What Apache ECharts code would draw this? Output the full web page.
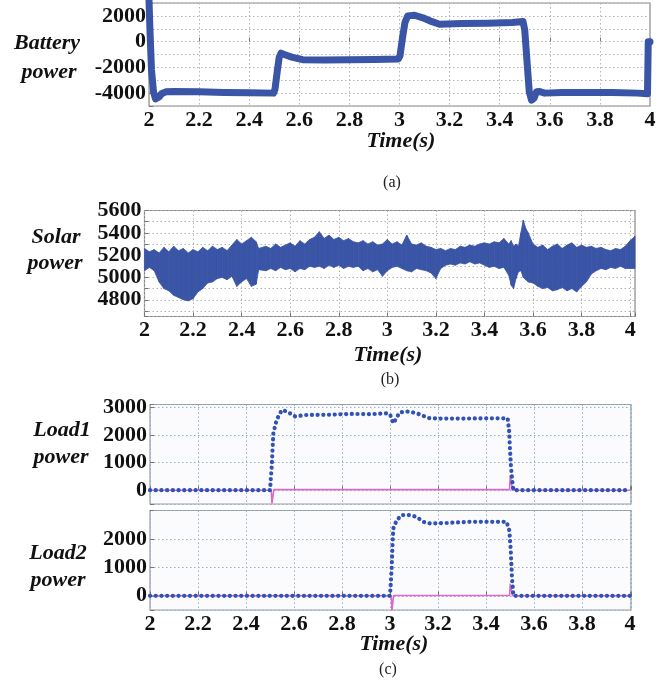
<!DOCTYPE html>
<html>
<head>
<meta charset="utf-8">
<script src="https://cdn.jsdelivr.net/npm/echarts@6/dist/echarts.min.js"></script>
<style>
html,body{margin:0;padding:0;background:#fff;}
#chart{width:669px;height:682px;}
</style>
</head>
<body>
<div id="chart"></div>
<script>
// ---------- data ----------
const xTicks = [2, 2.2, 2.4, 2.6, 2.8, 3, 3.2, 3.4, 3.6, 3.8, 4];

// (a) Battery power
const batteryT = [2.000, 2.004, 2.010, 2.018, 2.026, 2.033, 2.040, 2.050, 2.067, 2.100, 2.200, 2.300, 2.400, 2.497,
  2.503, 2.512, 2.520, 2.527, 2.540, 2.570, 2.613, 2.700, 2.800, 2.900, 2.995,
  3.002, 3.012, 3.022, 3.033, 3.060, 3.100, 3.130, 3.160, 3.250, 3.350, 3.450, 3.493,
  3.500, 3.510, 3.518, 3.527, 3.537, 3.547, 3.560, 3.580, 3.650, 3.750, 3.850, 3.950, 3.990,
  3.993, 4.000];
const batteryP = [3200, 800, -2200, -3900, -4450, -4550, -4300, -4050, -3900, -3880, -3900, -3950, -3970, -4000,
  -3700, -2300, -1200, -900, -1000, -1200, -1400, -1420, -1400, -1390, -1350,
  -1100, 300, 1500, 2000, 2050, 1800, 1550, 1350, 1400, 1420, 1480, 1560,
  900, -1800, -3900, -4550, -4400, -3900, -3880, -4000, -3960, -3950, -3960, -4000, -4050,
  0, 0];

// (b) Solar power envelope (upper / lower edge of the noisy trace)
const solarT = [2.00, 2.02, 2.04, 2.06, 2.08, 2.10, 2.12, 2.14, 2.16, 2.18, 2.20, 2.22, 2.24, 2.26, 2.28, 2.30,
  2.32, 2.34, 2.36, 2.38, 2.40, 2.42, 2.44, 2.46, 2.47, 2.50, 2.52, 2.54, 2.56, 2.58, 2.60, 2.62, 2.64, 2.66,
  2.68, 2.70, 2.72, 2.74, 2.76, 2.78, 2.80, 2.82, 2.84, 2.86, 2.88, 2.90, 2.92, 2.94, 2.96, 2.98, 3.00, 3.02,
  3.04, 3.06, 3.08, 3.10, 3.12, 3.14, 3.16, 3.18, 3.20, 3.22, 3.24, 3.26, 3.28, 3.30, 3.32, 3.34, 3.36, 3.38,
  3.40, 3.42, 3.44, 3.46, 3.48, 3.50, 3.51, 3.52, 3.53, 3.54, 3.55, 3.56, 3.57, 3.58, 3.60, 3.62, 3.64, 3.66,
  3.68, 3.70, 3.72, 3.74, 3.76, 3.78, 3.80, 3.82, 3.84, 3.86, 3.88, 3.90, 3.92, 3.94, 3.96, 3.98, 4.00, 4.02];
const solarHigh = [5260, 5230, 5250, 5220, 5270, 5230, 5280, 5240, 5260, 5220, 5250, 5230, 5270, 5240, 5280, 5250,
  5270, 5240, 5290, 5340, 5300, 5330, 5360, 5320, 5260, 5280, 5260, 5300, 5270, 5290, 5310, 5280, 5330, 5300,
  5340, 5360, 5410, 5350, 5380, 5340, 5360, 5330, 5350, 5320, 5310, 5330, 5300, 5320, 5290, 5300, 5340, 5300,
  5320, 5290, 5380, 5300, 5290, 5310, 5280, 5270, 5250, 5260, 5240, 5260, 5250, 5280, 5270, 5290, 5280, 5300,
  5310, 5300, 5320, 5310, 5350, 5300, 5330, 5280, 5300, 5280, 5400, 5515, 5440, 5400, 5300, 5270, 5290, 5250,
  5280, 5300, 5260, 5290, 5310, 5270, 5290, 5270, 5280, 5260, 5270, 5250, 5240, 5260, 5250, 5280, 5330, 5370];
const solarLow = [5060, 5090, 5060, 4960, 4900, 4880, 4840, 4820, 4800, 4790, 4810, 4870, 4900, 4950, 4960, 4990,
  5000, 4980, 5010, 4920, 4960, 4990, 4920, 4940, 5070, 5060, 5080, 5060, 5090, 5070, 5080, 5050, 5080, 5070,
  5100, 5090, 5100, 5080, 5110, 5090, 5110, 5080, 5100, 5090, 5100, 5060, 5080, 5050, 5070, 5010, 5060, 5090,
  5100, 5080, 5060, 5050, 5080, 5070, 5060, 5040, 4990, 5080, 5110, 5120, 5110, 5130, 5120, 5140, 5120, 5130,
  5110, 5090, 5100, 5080, 5090, 5020, 4930, 4900, 4990, 5050, 5060, 5000, 4980, 4960, 4950, 4920, 4900, 4910,
  4880, 4890, 4910, 4880, 4900, 4870, 4920, 4960, 5030, 5060, 5080, 5070, 5090, 5080, 5100, 5080, 5080, 5080];

// (c) Load1 power
const load1T = [2.000, 2.500, 2.507, 2.514, 2.528, 2.549, 2.570, 2.604, 2.650, 2.750, 2.830, 2.920, 2.990,
  3.000, 3.014, 3.040, 3.070, 3.110, 3.160, 3.200, 3.300, 3.400, 3.490, 3.496, 3.500, 3.504, 3.509, 3.514, 4.000];
const load1Blue = [0, 0, 850, 2070, 2550, 2900, 2850, 2670, 2720, 2730, 2760, 2750, 2780,
  2740, 2420, 2810, 2850, 2790, 2610, 2590, 2590, 2600, 2600, 2180, 1450, 850, 360, 0, 0];
const load1PinkT = [2.000, 2.505, 2.508, 2.512, 2.516, 3.498, 3.501, 3.505, 3.510, 4.000];
const load1Pink = [0, 0, -480, -480, 20, 20, 545, 545, 0, 0];

// (c) Load2 power
const load2T = [2.000, 3.000, 3.007, 3.011, 3.014, 3.028, 3.049, 3.083, 3.110, 3.139, 3.167, 3.236, 3.319,
  3.400, 3.486, 3.497, 3.503, 3.508, 3.514, 4.000];
const load2Blue = [0, 0, 1010, 1950, 2370, 2660, 2840, 2840, 2780, 2600, 2545, 2560, 2600,
  2600, 2600, 2300, 1600, 660, 0, 0];
const load2PinkT = [2.000, 3.005, 3.008, 3.011, 3.015, 3.498, 3.501, 3.505, 3.510, 4.000];
const load2Pink = [0, 0, -520, -520, 10, 10, 420, 420, 0, 0];

// ---------- chart ----------
const pairs = (xs, ys) => xs.map((x, i) => [x, ys[i]]);
const FONT = "'Liberation Serif', 'Times New Roman', serif";
const BLUE = '#3a54a6';
const DOTBLUE = '#2f52b4';
const PINK = '#d96ac9';

const xFmt = v => {
  const r = Math.round(v * 5) / 5;
  if (Math.abs(v - r) > 1e-6) return '';
  return xTicks.some(t => Math.abs(t - r) < 1e-6) ? String(+r.toFixed(1)) : '';
};
const tickLabel = {fontFamily: FONT, fontWeight: 'bold', fontSize: 22, color: '#111'};

function xAxis(gi, max, showLabel, gridColor) {
  return {
    type: 'value', gridIndex: gi, min: 2, max: max, interval: 0.2,
    axisLine: {show: false},
    axisTick: {show: true, inside: true, length: 4, lineStyle: {color: '#777'}},
    axisLabel: Object.assign({show: showLabel, margin: 3, formatter: xFmt}, tickLabel),
    splitLine: {show: true, lineStyle: {type: [1.5, 2.5], color: gridColor, width: 1}}
  };
}
function yAxis(gi, min, max, opts, fmt, gridColor) {
  return Object.assign({
    type: 'value', gridIndex: gi, min: min, max: max,
    axisLine: {show: false},
    axisTick: {show: true, inside: true, length: 4, lineStyle: {color: '#777'}},
    axisLabel: Object.assign({margin: 3, formatter: fmt}, tickLabel),
    splitLine: {show: true, lineStyle: {type: [1.5, 2.5], color: gridColor, width: 1}}
  }, opts);
}

const gridBase = {show: true, containLabel: false, outerBoundsMode: 'none', borderWidth: 1.2};

// band between the upper and lower envelope, drawn segment by segment
function renderBand(params, api) {
  const i = params.dataIndex;
  if (i >= solarT.length - 1) return null;
  const p1 = api.coord([solarT[i], solarHigh[i]]);
  const p2 = api.coord([solarT[i + 1], solarHigh[i + 1]]);
  const p3 = api.coord([solarT[i + 1], solarLow[i + 1]]);
  const p4 = api.coord([solarT[i], solarLow[i]]);
  return {
    type: 'polygon',
    shape: {points: [p1, p2, p3, p4]},
    style: {fill: BLUE, stroke: BLUE, lineWidth: 0.8}
  };
}

const option = {
  animation: false,
  backgroundColor: '#ffffff',
  grid: [
    Object.assign({left: 149, top: 3, width: 501, height: 103, borderColor: '#8a8a8a', backgroundColor: '#fff'}, gridBase),
    Object.assign({left: 144.5, top: 210.5, width: 490.5, height: 106, borderColor: '#8a8a8a', backgroundColor: '#fff'}, gridBase),
    Object.assign({left: 150, top: 404.5, width: 481, height: 99.5, borderColor: '#9a9aa2', backgroundColor: '#fbfbfd'}, gridBase),
    Object.assign({left: 150, top: 510.5, width: 481, height: 99.5, borderColor: '#9a9aa2', backgroundColor: '#fbfbfd'}, gridBase)
  ],
  xAxis: [
    xAxis(0, 4, true, '#b4b4b4'),
    xAxis(1, 4.02, true, '#b4b4b4'),
    xAxis(2, 4.004, false, '#8fb3c4'),
    xAxis(3, 4.004, true, '#8fb3c4')
  ],
  yAxis: [
    yAxis(0, -5000, 3000, {interval: 1000}, v => (v % 2000 === 0 && v >= -4000 && v <= 2000) ? String(v) : '', '#b4b4b4'),
    yAxis(1, 4650, 5600, {splitNumber: 10}, v => (Math.round(v) % 200 === 0 && v >= 4800 && v <= 5600) ? String(Math.round(v)) : '', '#b4b4b4'),
    yAxis(2, -500, 3100, {splitNumber: 4}, v => (Math.round(v) % 1000 === 0 && v >= 0 && v <= 3000) ? String(Math.round(v)) : '', '#8fb3c4'),
    yAxis(3, -500, 3000, {splitNumber: 4}, v => (Math.round(v) % 1000 === 0 && v >= 0 && v <= 2000) ? String(Math.round(v)) : '', '#8fb3c4')
  ],
  series: [
    {
      type: 'line', name: 'Battery', xAxisIndex: 0, yAxisIndex: 0,
      data: pairs(batteryT, batteryP), showSymbol: false, symbol: 'none', clip: true,
      lineStyle: {color: BLUE, width: 7, join: 'round', cap: 'round'}
    },
    {
      type: 'custom', name: 'Solar', xAxisIndex: 1, yAxisIndex: 1,
      renderItem: renderBand, clip: true,
      encode: {x: 0, y: [1, 2]},
      data: solarT.map((t, i) => [t, solarHigh[i], solarLow[i]])
    },
    {
      type: 'line', name: 'Load1ref', xAxisIndex: 2, yAxisIndex: 2,
      data: pairs(load1PinkT, load1Pink), symbol: 'none', clip: true,
      lineStyle: {color: PINK, width: 1.6}
    },
    {
      type: 'line', name: 'Load1', xAxisIndex: 2, yAxisIndex: 2,
      data: pairs(load1T, load1Blue), symbol: 'none', clip: true,
      lineStyle: {color: DOTBLUE, width: 4.2, type: [0.1, 5.6], cap: 'round', join: 'round'}
    },
    {
      type: 'line', name: 'Load2ref', xAxisIndex: 3, yAxisIndex: 3,
      data: pairs(load2PinkT, load2Pink), symbol: 'none', clip: true,
      lineStyle: {color: PINK, width: 1.6}
    },
    {
      type: 'line', name: 'Load2', xAxisIndex: 3, yAxisIndex: 3,
      data: pairs(load2T, load2Blue), symbol: 'none', clip: true,
      lineStyle: {color: DOTBLUE, width: 4.2, type: [0.1, 5.6], cap: 'round', join: 'round'}
    }
  ],
  graphic: [
    ['Battery', 47, 43], ['power', 49, 72],
    ['Solar', 56, 237], ['power', 55, 263],
    ['Load1', 62, 430], ['power', 61, 457],
    ['Load2', 58, 553], ['power', 58, 580],
    ['Time(s)', 401, 141], ['Time(s)', 388, 355], ['Time(s)', 394, 644]
  ].map(([t, x, y]) => ({
    type: 'text', x: x, y: y,
    style: {text: t, fontFamily: FONT, fontWeight: 'bold', fontStyle: 'italic', fontSize: 22,
      fill: '#111', align: 'center', verticalAlign: 'middle'}
  })).concat([
    ['(a)', 392, 183], ['(b)', 390, 380], ['(c)', 388, 670]
  ].map(([t, x, y]) => ({
    type: 'text', x: x, y: y,
    style: {text: t, fontFamily: FONT, fontSize: 16, fill: '#222', align: 'center', verticalAlign: 'middle'}
  })))
};

const chart = echarts.init(document.getElementById('chart'), null, {renderer: 'canvas'});
chart.setOption(option);
</script>
</body>
</html>
